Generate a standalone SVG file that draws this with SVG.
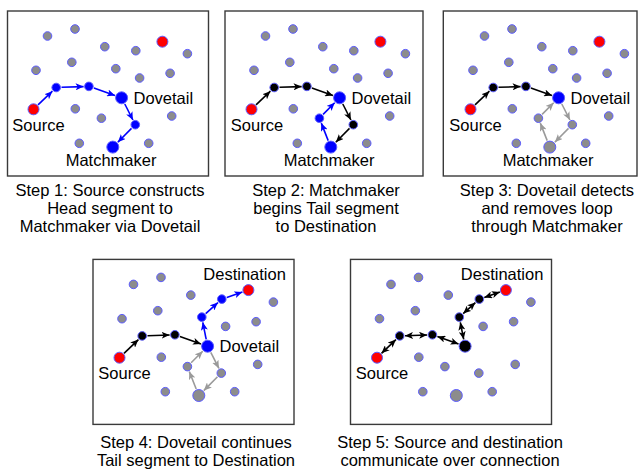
<svg xmlns="http://www.w3.org/2000/svg" width="639" height="473" viewBox="0 0 639 473">
<style>
.box{fill:#fff;stroke:#3a3a3a;stroke-width:1.4}
.node circle{stroke:#5c5cff;stroke-width:1}
.gy{fill:#8c8c8c}.rd{fill:#ff0000}.bl{fill:#0000ff}.bk{fill:#000}
.e{fill:none;stroke-width:1.6}
.eb{stroke:#0000ff;marker-end:url(#ab)}
.ek{stroke:#000;marker-end:url(#ak)}
.eg{stroke:#9a9a9a;marker-end:url(#ag)}
.ed{stroke:#000;marker-end:url(#ak);marker-start:url(#ak)}
text{font-family:"Liberation Sans",Arial,sans-serif;font-size:16.5px;fill:#000}
.cap{text-anchor:middle}
</style>
<defs>
<marker id="ab" markerUnits="userSpaceOnUse" markerWidth="9" markerHeight="7" refX="8" refY="3.5" orient="auto-start-reverse"><path d="M0,0 L8,3.5 L0,7 L2,3.5z" fill="#0000ff"/></marker>
<marker id="ak" markerUnits="userSpaceOnUse" markerWidth="9" markerHeight="7" refX="8" refY="3.5" orient="auto-start-reverse"><path d="M0,0 L8,3.5 L0,7 L2,3.5z" fill="#000"/></marker>
<marker id="ag" markerUnits="userSpaceOnUse" markerWidth="9" markerHeight="7" refX="8" refY="3.5" orient="auto-start-reverse"><path d="M0,0 L8,3.5 L0,7 L2,3.5z" fill="#9a9a9a"/></marker>
</defs>

<!-- Panel 1 -->
<g id="panel1">
<rect class="box" x="7.5" y="11" width="201" height="165"/>
<g id="p1-connectors">
<path class="e eb" d="M38,104.9 L52.4,91.2"/>
<path class="e eb" d="M61.5,87.3 L83.6,86.6"/>
<path class="e eb" d="M93.9,88.1 L115,95.5"/>
<path class="e eb" d="M124.8,104 L132.9,120"/>
<path class="e eb" d="M131.5,128.4 L117.8,142.2"/>
</g>
<g id="p1-g1" class="node"><circle class="gy" cx="47.5" cy="36" r="4.3"/></g>
<g id="p1-g2" class="node"><circle class="gy" cx="75" cy="29" r="4.3"/></g>
<g id="p1-g3" class="node"><circle class="gy" cx="104.8" cy="46.7" r="4.3"/></g>
<g id="p1-g4" class="node"><circle class="gy" cx="135.8" cy="50.7" r="4.3"/></g>
<g id="p1-dest" class="node"><circle class="rd" cx="162.4" cy="41.7" r="5.5"/></g>
<g id="p1-g5" class="node"><circle class="gy" cx="187.4" cy="53.7" r="4.3"/></g>
<g id="p1-g6" class="node"><circle class="gy" cx="36" cy="70.3" r="4.3"/></g>
<g id="p1-g7" class="node"><circle class="gy" cx="71.8" cy="62.3" r="4.3"/></g>
<g id="p1-g8" class="node"><circle class="gy" cx="115.8" cy="68.7" r="4.3"/></g>
<g id="p1-g9" class="node"><circle class="gy" cx="139.6" cy="78" r="4.3"/></g>
<g id="p1-g10" class="node"><circle class="gy" cx="170.1" cy="73.3" r="4.3"/></g>
<g id="p1-n1" class="node"><circle class="bl" cx="56.2" cy="87.5" r="4.3"/></g>
<g id="p1-n2" class="node"><circle class="bl" cx="88.9" cy="86.4" r="4.3"/></g>
<g id="p1-dovetail" class="node"><circle class="bl" cx="121.6" cy="97.8" r="6"/><text x="133.5" y="103.5">Dovetail</text></g>
<g id="p1-source" class="node"><circle class="rd" cx="33.5" cy="109.3" r="5.5"/><text x="12.3" y="131">Source</text></g>
<g id="p1-g11" class="node"><circle class="gy" cx="75.3" cy="108.8" r="4.3"/></g>
<g id="p1-g12" class="node"><circle class="gy" cx="101.4" cy="118.2" r="4.3"/></g>
<g id="p1-g13" class="node"><circle class="gy" cx="171.7" cy="116" r="4.3"/></g>
<g id="p1-n3" class="node"><circle class="bl" cx="135.3" cy="124.7" r="4.3"/></g>
<g id="p1-g14" class="node"><circle class="gy" cx="79.3" cy="143.3" r="4.3"/></g>
<g id="p1-matchmaker" class="node"><circle class="bl" cx="112.8" cy="147.1" r="6"/><text x="65.7" y="165.7">Matchmaker</text></g>
<g id="p1-g15" class="node"><circle class="gy" cx="148.7" cy="143.3" r="4.3"/></g>
</g>

<!-- Panel 2 -->
<g id="panel2" transform="translate(218,0)">
<rect class="box" x="7" y="11" width="198" height="165"/>
<g id="p2-connectors">
<path class="e ek" d="M38,104.9 L52.4,91.2"/>
<path class="e ek" d="M61.5,87.3 L83.6,86.6"/>
<path class="e ek" d="M93.9,88.1 L115,95.5"/>
<path class="e ek" d="M124.8,104 L132.9,120"/>
<path class="e ek" d="M131.5,128.4 L117.8,142.2"/>
<path class="e eb" d="M110.2,140.6 L103.3,123.1"/>
<path class="e eb" d="M105.1,114.4 L116.7,102.8"/>
</g>
<g id="p2-g1" class="node"><circle class="gy" cx="47.5" cy="36" r="4.3"/></g>
<g id="p2-g2" class="node"><circle class="gy" cx="75" cy="29" r="4.3"/></g>
<g id="p2-g3" class="node"><circle class="gy" cx="104.8" cy="46.7" r="4.3"/></g>
<g id="p2-g4" class="node"><circle class="gy" cx="135.8" cy="50.7" r="4.3"/></g>
<g id="p2-dest" class="node"><circle class="rd" cx="162.4" cy="41.7" r="5.5"/></g>
<g id="p2-g5" class="node"><circle class="gy" cx="187.4" cy="53.7" r="4.3"/></g>
<g id="p2-g6" class="node"><circle class="gy" cx="36" cy="70.3" r="4.3"/></g>
<g id="p2-g7" class="node"><circle class="gy" cx="71.8" cy="62.3" r="4.3"/></g>
<g id="p2-g8" class="node"><circle class="gy" cx="115.8" cy="68.7" r="4.3"/></g>
<g id="p2-g9" class="node"><circle class="gy" cx="139.6" cy="78" r="4.3"/></g>
<g id="p2-g10" class="node"><circle class="gy" cx="170.1" cy="73.3" r="4.3"/></g>
<g id="p2-n1" class="node"><circle class="bk" cx="56.2" cy="87.5" r="4.3"/></g>
<g id="p2-n2" class="node"><circle class="bk" cx="88.9" cy="86.4" r="4.3"/></g>
<g id="p2-dovetail" class="node"><circle class="bl" cx="121.6" cy="97.8" r="6"/><text x="133.5" y="103.5">Dovetail</text></g>
<g id="p2-source" class="node"><circle class="rd" cx="33.5" cy="109.3" r="5.5"/><text x="12.8" y="131">Source</text></g>
<g id="p2-g11" class="node"><circle class="gy" cx="75.3" cy="108.8" r="4.3"/></g>
<g id="p2-g12" class="node"><circle class="bl" cx="101.4" cy="118.2" r="4.3"/></g>
<g id="p2-g13" class="node"><circle class="gy" cx="171.7" cy="116" r="4.3"/></g>
<g id="p2-n3" class="node"><circle class="bk" cx="135.3" cy="124.7" r="4.3"/></g>
<g id="p2-g14" class="node"><circle class="gy" cx="79.3" cy="143.3" r="4.3"/></g>
<g id="p2-matchmaker" class="node"><circle class="bl" cx="112.8" cy="147.1" r="6"/><text x="65.7" y="165.7">Matchmaker</text></g>
<g id="p2-g15" class="node"><circle class="gy" cx="148.7" cy="143.3" r="4.3"/></g>
</g>

<!-- Panel 3 -->
<g id="panel3" transform="translate(437,0)">
<rect class="box" x="6.3" y="11" width="193.7" height="165"/>
<g id="p3-connectors">
<path class="e ek" d="M38,104.9 L52.4,91.2"/>
<path class="e ek" d="M61.5,87.3 L83.6,86.6"/>
<path class="e ek" d="M93.9,88.1 L115,95.5"/>
<path class="e eg" d="M124.8,104 L132.9,120"/>
<path class="e eg" d="M131.5,128.4 L117.8,142.2"/>
<path class="e eg" d="M110.2,140.6 L103.3,123.1"/>
<path class="e eg" d="M105.1,114.4 L116.7,102.8"/>
</g>
<g id="p3-g1" class="node"><circle class="gy" cx="47.5" cy="36" r="4.3"/></g>
<g id="p3-g2" class="node"><circle class="gy" cx="75" cy="29" r="4.3"/></g>
<g id="p3-g3" class="node"><circle class="gy" cx="104.8" cy="46.7" r="4.3"/></g>
<g id="p3-g4" class="node"><circle class="gy" cx="135.8" cy="50.7" r="4.3"/></g>
<g id="p3-dest" class="node"><circle class="rd" cx="162.4" cy="41.7" r="5.5"/></g>
<g id="p3-g5" class="node"><circle class="gy" cx="187.4" cy="53.7" r="4.3"/></g>
<g id="p3-g6" class="node"><circle class="gy" cx="36" cy="70.3" r="4.3"/></g>
<g id="p3-g7" class="node"><circle class="gy" cx="71.8" cy="62.3" r="4.3"/></g>
<g id="p3-g8" class="node"><circle class="gy" cx="115.8" cy="68.7" r="4.3"/></g>
<g id="p3-g9" class="node"><circle class="gy" cx="139.6" cy="78" r="4.3"/></g>
<g id="p3-g10" class="node"><circle class="gy" cx="170.1" cy="73.3" r="4.3"/></g>
<g id="p3-n1" class="node"><circle class="bk" cx="56.2" cy="87.5" r="4.3"/></g>
<g id="p3-n2" class="node"><circle class="bk" cx="88.9" cy="86.4" r="4.3"/></g>
<g id="p3-dovetail" class="node"><circle class="bl" cx="121.6" cy="97.8" r="6"/><text x="133.5" y="103.5">Dovetail</text></g>
<g id="p3-source" class="node"><circle class="rd" cx="33.5" cy="109.3" r="5.5"/><text x="12.3" y="131">Source</text></g>
<g id="p3-g11" class="node"><circle class="gy" cx="75.3" cy="108.8" r="4.3"/></g>
<g id="p3-g12" class="node"><circle class="gy" cx="101.4" cy="118.2" r="4.3"/></g>
<g id="p3-g13" class="node"><circle class="gy" cx="171.7" cy="116" r="4.3"/></g>
<g id="p3-n3" class="node"><circle class="gy" cx="135.3" cy="124.7" r="4.3"/></g>
<g id="p3-g14" class="node"><circle class="gy" cx="79.3" cy="143.3" r="4.3"/></g>
<g id="p3-matchmaker" class="node"><circle class="gy" cx="112.8" cy="147.1" r="6"/><text x="65.7" y="165.7">Matchmaker</text></g>
<g id="p3-g15" class="node"><circle class="gy" cx="148.7" cy="143.3" r="4.3"/></g>
</g>

<!-- Panel 4 -->
<g id="panel4" transform="translate(86,248.4)">
<rect class="box" x="7" y="11" width="201" height="165"/>
<g id="p4-connectors">
<path class="e ek" d="M38,104.9 L52.4,91.2"/>
<path class="e ek" d="M61.5,87.3 L83.6,86.6"/>
<path class="e ek" d="M93.9,88.1 L115,95.5"/>
<path class="e eg" d="M124.8,104 L132.9,120"/>
<path class="e eg" d="M131.5,128.4 L117.8,142.2"/>
<path class="e eg" d="M110.2,140.6 L103.3,123.1"/>
<path class="e eg" d="M105.1,114.4 L116.7,102.8"/>
<path class="e eb" d="M120.2,90.9 L116.8,73.9"/>
<path class="e eb" d="M119.7,65.2 L131.9,54.2"/>
<path class="e eb" d="M140.8,49 L156.4,43.7"/>
</g>
<g id="p4-g1" class="node"><circle class="gy" cx="47.5" cy="36" r="4.3"/></g>
<g id="p4-g2" class="node"><circle class="gy" cx="75" cy="29" r="4.3"/></g>
<g id="p4-g3" class="node"><circle class="gy" cx="104.8" cy="46.7" r="4.3"/></g>
<g id="p4-g4" class="node"><circle class="bl" cx="135.8" cy="50.7" r="4.3"/></g>
<g id="p4-dest" class="node"><circle class="rd" cx="162.4" cy="41.7" r="5.5"/><text x="117.3" y="31.6">Destination</text></g>
<g id="p4-g5" class="node"><circle class="gy" cx="187.4" cy="53.7" r="4.3"/></g>
<g id="p4-g6" class="node"><circle class="gy" cx="36" cy="70.3" r="4.3"/></g>
<g id="p4-g7" class="node"><circle class="gy" cx="71.8" cy="62.3" r="4.3"/></g>
<g id="p4-g8" class="node"><circle class="bl" cx="115.8" cy="68.7" r="4.3"/></g>
<g id="p4-g9" class="node"><circle class="gy" cx="139.6" cy="78" r="4.3"/></g>
<g id="p4-g10" class="node"><circle class="gy" cx="170.1" cy="73.3" r="4.3"/></g>
<g id="p4-n1" class="node"><circle class="bk" cx="56.2" cy="87.5" r="4.3"/></g>
<g id="p4-n2" class="node"><circle class="bk" cx="88.9" cy="86.4" r="4.3"/></g>
<g id="p4-dovetail" class="node"><circle class="bl" cx="121.6" cy="97.8" r="6"/><text x="133.5" y="103.5">Dovetail</text></g>
<g id="p4-source" class="node"><circle class="rd" cx="33.5" cy="109.3" r="5.5"/><text x="12.3" y="130.6">Source</text></g>
<g id="p4-g11" class="node"><circle class="gy" cx="75.3" cy="108.8" r="4.3"/></g>
<g id="p4-g12" class="node"><circle class="gy" cx="101.4" cy="118.2" r="4.3"/></g>
<g id="p4-g13" class="node"><circle class="gy" cx="171.7" cy="116" r="4.3"/></g>
<g id="p4-n3" class="node"><circle class="gy" cx="135.3" cy="124.7" r="4.3"/></g>
<g id="p4-g14" class="node"><circle class="gy" cx="79.3" cy="143.3" r="4.3"/></g>
<g id="p4-matchmaker" class="node"><circle class="gy" cx="112.8" cy="147.1" r="6"/></g>
<g id="p4-g15" class="node"><circle class="gy" cx="148.7" cy="143.3" r="4.3"/></g>
</g>

<!-- Panel 5 -->
<g id="panel5" transform="translate(343.5,248.4)">
<rect class="box" x="7" y="11" width="201" height="165"/>
<g id="p5-connectors">
<path class="e ed" d="M38,104.9 L52.4,91.2"/>
<path class="e ed" d="M61.5,87.3 L83.6,86.6"/>
<path class="e ed" d="M93.9,88.1 L115,95.5"/>
<path class="e ed" d="M120.2,90.9 L116.8,73.9"/>
<path class="e ed" d="M119.7,65.2 L131.9,54.2"/>
<path class="e ed" d="M140.8,49 L156.4,43.7"/>
</g>
<g id="p5-g1" class="node"><circle class="gy" cx="47.5" cy="36" r="4.3"/></g>
<g id="p5-g2" class="node"><circle class="gy" cx="75" cy="29" r="4.3"/></g>
<g id="p5-g3" class="node"><circle class="gy" cx="104.8" cy="46.7" r="4.3"/></g>
<g id="p5-g4" class="node"><circle class="bk" cx="135.8" cy="50.7" r="4.3"/></g>
<g id="p5-dest" class="node"><circle class="rd" cx="162.4" cy="41.7" r="5.5"/><text x="117.3" y="31.6">Destination</text></g>
<g id="p5-g5" class="node"><circle class="gy" cx="187.4" cy="53.7" r="4.3"/></g>
<g id="p5-g6" class="node"><circle class="gy" cx="36" cy="70.3" r="4.3"/></g>
<g id="p5-g7" class="node"><circle class="gy" cx="71.8" cy="62.3" r="4.3"/></g>
<g id="p5-g8" class="node"><circle class="bk" cx="115.8" cy="68.7" r="4.3"/></g>
<g id="p5-g9" class="node"><circle class="gy" cx="139.6" cy="78" r="4.3"/></g>
<g id="p5-g10" class="node"><circle class="gy" cx="170.1" cy="73.3" r="4.3"/></g>
<g id="p5-n1" class="node"><circle class="bk" cx="56.2" cy="87.5" r="4.3"/></g>
<g id="p5-n2" class="node"><circle class="bk" cx="88.9" cy="86.4" r="4.3"/></g>
<g id="p5-dovetail" class="node"><circle class="bk" cx="121.6" cy="97.8" r="6"/></g>
<g id="p5-source" class="node"><circle class="rd" cx="33.5" cy="109.3" r="5.5"/><text x="12.3" y="130.6">Source</text></g>
<g id="p5-g11" class="node"><circle class="gy" cx="75.3" cy="108.8" r="4.3"/></g>
<g id="p5-g12" class="node"><circle class="gy" cx="101.4" cy="118.2" r="4.3"/></g>
<g id="p5-g13" class="node"><circle class="gy" cx="171.7" cy="116" r="4.3"/></g>
<g id="p5-n3" class="node"><circle class="gy" cx="135.3" cy="124.7" r="4.3"/></g>
<g id="p5-g14" class="node"><circle class="gy" cx="79.3" cy="143.3" r="4.3"/></g>
<g id="p5-matchmaker" class="node"><circle class="gy" cx="112.8" cy="147.1" r="6"/></g>
<g id="p5-g15" class="node"><circle class="gy" cx="148.7" cy="143.3" r="4.3"/></g>
</g>

<!-- Captions -->
<g id="captions">
<text class="cap" x="110" y="195.5">Step 1: Source constructs</text>
<text class="cap" x="110" y="213.5">Head segment to</text>
<text class="cap" x="110" y="231.5">Matchmaker via Dovetail</text>
<text class="cap" x="326" y="195.5">Step 2: Matchmaker</text>
<text class="cap" x="326" y="213.5">begins Tail segment</text>
<text class="cap" x="326" y="231.5">to Destination</text>
<text class="cap" x="547" y="195.5">Step 3: Dovetail detects</text>
<text class="cap" x="547" y="213.5">and removes loop</text>
<text class="cap" x="547" y="231.5">through Matchmaker</text>
<text class="cap" x="196" y="448">Step 4: Dovetail continues</text>
<text class="cap" x="196" y="466">Tail segment to Destination</text>
<text class="cap" x="450" y="448">Step 5: Source and destination</text>
<text class="cap" x="450" y="466">communicate over connection</text>
</g>
</svg>
